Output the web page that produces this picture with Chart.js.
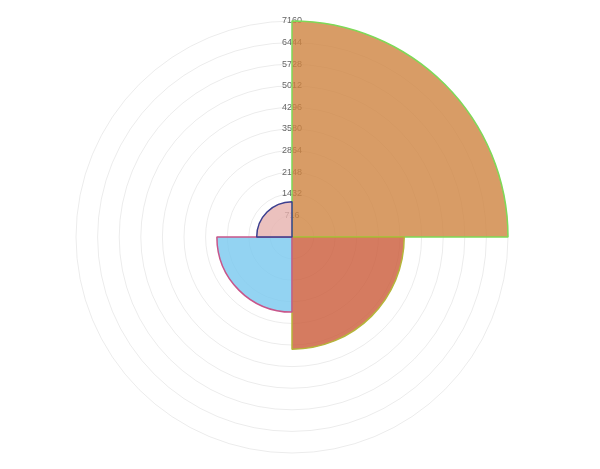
<!DOCTYPE html>
<html>
<head>
<meta charset="utf-8">
<script src="https://cdn.jsdelivr.net/npm/chart.js@4/dist/chart.umd.min.js"></script>
<style>
  html, body { margin: 0; padding: 0; background: #fff; }
  #wrap { width: 600px; height: 469px; }
</style>
</head>
<body>
<div id="wrap"><canvas id="chart"></canvas></div>
<script>
/* ── DATA ── */
const labels = ['A', 'B', 'C', 'D'];
const values = [7160, 3720, 2490, 1170];
const fillColors = ['rgba(206,131,64,0.8)', 'rgba(202,90,56,0.8)', 'rgba(120,200,239,0.8)', 'rgba(230,178,174,0.8)'];
const borderColors = ['#7ED957', '#B5B53A', '#C8558A', '#3B3F8F'];
const scaleMax = 7160;
const scaleStep = 716;

/* ── CHART ── */
const ctx = document.getElementById('chart').getContext('2d');
new Chart(ctx, {
  type: 'polarArea',
  data: {
    labels,
    datasets: [{
      data: values,
      backgroundColor: fillColors,
      borderColor: borderColors,
      borderWidth: 1.5,
    }],
  },
  options: {
    responsive: true, maintainAspectRatio: false,
    animation: false,
    layout: { padding: { top: 15, bottom: 9, left: 62, right: 78 } },
    plugins: { legend: { display: false }, tooltip: { enabled: false } },
    scales: {
      r: {
        min: 0, max: scaleMax,
        grid: { color: 'rgba(0,0,0,0.08)' },
        ticks: {
          stepSize: scaleStep,
          showLabelBackdrop: false,
          color: '#666',
          font: { family: 'Liberation Sans', size: 9 },
          callback: v => String(v),
        },
      },
    },
  },
});
</script>
</body>
</html>
